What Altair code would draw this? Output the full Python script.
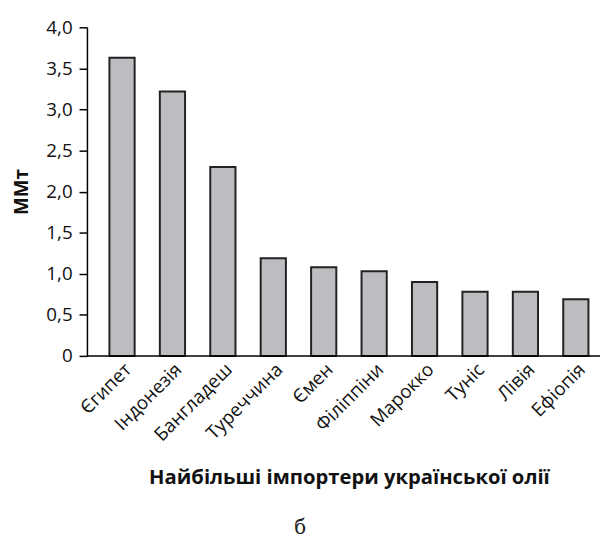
import altair as alt
import pandas as pd

countries = ["Єгипет", "Індонезія", "Бангладеш", "Туреччина", "Ємен",
             "Філіппіни", "Марокко", "Туніс", "Лівія", "Ефіопія"]
values = [3.63, 3.22, 2.30, 1.19, 1.08, 1.03, 0.90, 0.78, 0.78, 0.69]

df = pd.DataFrame({"country": countries, "value": values})

FONT = "Open Sans"

bars = alt.Chart(df).mark_bar(
    fill="#bcbdc1", stroke="#222222", strokeWidth=2
).encode(
    x=alt.X("country:N", sort=countries,
            scale=alt.Scale(range=[10, 521], paddingInner=0.5, paddingOuter=0.25),
            axis=alt.Axis(title="Найбільші імпортери української олії",
                          labelAngle=-45, labelAlign="right", labelBaseline="top",
                          labelPadding=4, ticks=False, domain=False,
                          labelFontSize=19, labelColor="#111111",
                          titleFontSize=20.5, titleFontWeight="bold", titleColor="#111111",
                          titlePadding=24, labelFont=FONT, titleFont=FONT)),
    y=alt.Y("value:Q", scale=alt.Scale(domain=[0, 4]),
            axis=alt.Axis(title="ММт", values=[0, 0.5, 1, 1.5, 2, 2.5, 3, 3.5, 4],
                          labelExpr="datum.value == 0 ? '0' : replace(format(datum.value, '.1f'), '.', ',')",
                          tickSize=8, tickColor="#000000", tickWidth=1.5,
                          domainColor="#000000", domainWidth=1.5, grid=False,
                          labelFontSize=19, labelColor="#111111", labelPadding=7,
                          titleFontSize=19, titleFontWeight="bold", titleColor="#111111",
                          titlePadding=15, labelFont=FONT, titleFont=FONT)),
)

baseline = alt.Chart(pd.DataFrame({"v": [0]})).mark_rule(
    color="#000000", strokeWidth=1.5
).encode(y="v:Q", x=alt.value(0), x2=alt.value(520))

chart = alt.layer(bars, baseline).properties(
    width=520, height=333,
    autosize=alt.AutoSizeParams(type="none"),
    padding={"left": 80, "top": 16, "right": 5, "bottom": 184},
    title=alt.TitleParams("б", orient="bottom", font="DejaVu Serif", fontSize=20,
                          fontWeight="normal", color="#222222", offset=30, dx=-44,
                          anchor="middle"),
).configure_view(stroke=None)

chart.save("out.html", embed_options={"renderer": "svg", "actions": False})
